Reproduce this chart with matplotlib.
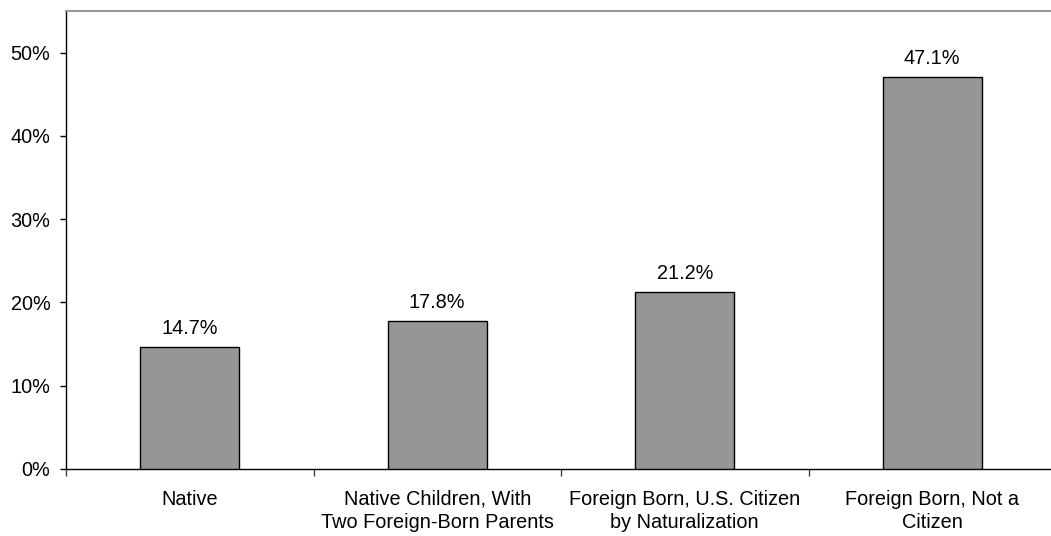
import matplotlib
matplotlib.use("Agg")
import matplotlib.pyplot as plt
import numpy as np

plt.rcParams['font.family'] = ['Liberation Sans', 'DejaVu Sans']

categories = ["Native", "Native Children, With\nTwo Foreign-Born Parents",
              "Foreign Born, U.S. Citizen\nby Naturalization", "Foreign Born, Not a\nCitizen"]
values = [14.7, 17.8, 21.2, 47.1]
yticks = [0, 10, 20, 30, 40, 50]

FS = 14.3
fig = plt.figure(figsize=(10.51, 5.36), dpi=100)
ax = fig.add_axes([66/1051, (536-469)/536, 990/1051, (469-11)/536])

x = np.arange(len(categories))
ax.bar(x, values, width=0.4, color="#969696", edgecolor="black", linewidth=1.0, zorder=3)
for xi, v in zip(x, values):
    ax.annotate(f"{v:.1f}%", (xi, v), xytext=(0, 6.5), textcoords="offset points",
                ha="center", va="bottom", fontsize=FS)

ax.set_xlim(-0.5, len(categories) - 0.5)
ax.set_ylim(0, 55)
ax.set_yticks(yticks)
ax.set_yticklabels([f"{t}%" for t in yticks], fontsize=FS)
ax.set_xticks(x)
ax.set_xticklabels(categories, fontsize=FS, linespacing=1.3)
ax.tick_params(axis="x", length=0, pad=15)
ax.set_xticks(np.arange(len(categories) + 1) - 0.5, minor=True)
ax.tick_params(axis="x", which="minor", length=5, width=1, color="#444444")
ax.tick_params(axis="y", length=4.3, width=1, pad=7)

ax.spines["top"].set_color("#999999")
ax.spines["top"].set_linewidth(1.5)
ax.spines["right"].set_visible(False)
ax.spines["left"].set_linewidth(1.0)
ax.spines["bottom"].set_linewidth(1.0)

fig.savefig("out.png", dpi=100)
